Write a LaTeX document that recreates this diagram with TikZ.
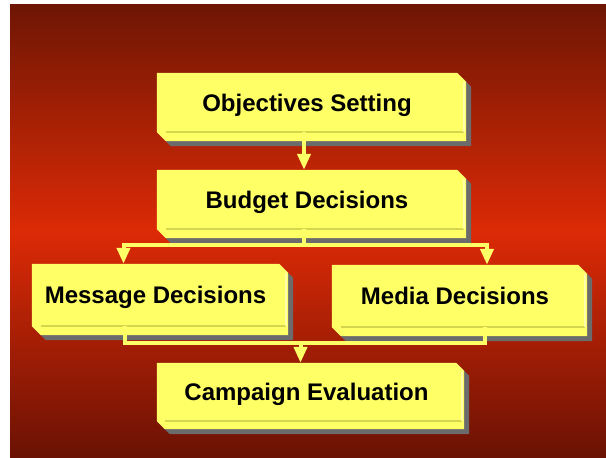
\documentclass[tikz,border=0pt]{standalone}
\usepackage{fontspec}
\setmainfont{Liberation Sans}
\usetikzlibrary{arrows.meta,calc}
\definecolor{bgtop}{HTML}{6E1604}
\definecolor{bgmid}{HTML}{DC2A06}
\definecolor{bgbot}{HTML}{6A1204}
\definecolor{boxyellow}{HTML}{FFFF66}
\definecolor{shadowgray}{HTML}{6B6B6B}
\definecolor{edgedark}{HTML}{D6D64E}
\definecolor{edgelight}{HTML}{FFFFA8}
\pgfdeclarelayer{bglayer}
\pgfdeclarelayer{boxlayer}
\pgfsetlayers{bglayer,boxlayer,main}
\tikzset{
  face/.style={inner sep=0pt, text depth=0pt, font=\fontsize{24}{28}\selectfont\bfseries, text=black},
  link/.style={draw=boxyellow, line width=4pt},
  conn/.style={link, -{Triangle[width=13pt,length=16pt]}}
}
\newcommand{\tdpath}[2]{(#1.north west) -- (#1.north east) -- ($(#1.north east)+(#2,-#2)$) -- ($(#1.south east)+(#2,-#2)$) -- ($(#1.south west)+(#2,-#2)$) -- (#1.south west) -- cycle}
\newcommand{\tdbox}[2]{%
  \begin{pgfonlayer}{boxlayer}
    \fill[shadowgray, transform canvas={shift={(5pt,-5pt)}}] \tdpath{#1}{#2};
    \fill[boxyellow] \tdpath{#1}{#2};
    \draw[edgedark, line width=1.5pt] ($(#1.south west)+(#2,0)$) -- ($(#1.south east)+(#2-2,0)$);
    \draw[edgelight, line width=1.5pt] ($(#1.north east)+(#2-2,-#2)$) -- ($(#1.south east)+(#2-2,0)$);
  \end{pgfonlayer}}
\begin{document}
\begin{tikzpicture}[x=1pt,y=1pt]
\useasboundingbox (0,0) rectangle (606,458);
\begin{pgfonlayer}{bglayer}
  \shade[top color=bgtop, bottom color=bgbot, middle color=bgmid] (10,0) rectangle (606,453);
\end{pgfonlayer}

\node[face, minimum width=300pt, minimum height=59pt] (obj)  at (307,355.5) {Objectives Setting};
\node[face, minimum width=300pt, minimum height=59pt] (bud)  at (307,258.5) {Budget Decisions};
\node[face, minimum width=247pt, minimum height=62pt] (msg)  at (155.5,163) {Message Decisions};
\node[face, minimum width=246pt, minimum height=62pt] (med)  at (455,162) {Media Decisions};
\node[face, minimum width=299pt, minimum height=58pt] (camp) at (306.5,66) {Campaign Evaluation};

\tdbox{obj}{9}
\tdbox{bud}{9}
\tdbox{msg}{9}
\tdbox{med}{9}
\tdbox{camp}{8}

\draw[conn] ([xshift=-3pt]obj.south) -- ([xshift=-3pt]bud.north);
\coordinate (split) at ($(bud.south)+(-3,-16)$);
\draw[link] ([xshift=-3pt]bud.south) -- (split);
\draw[conn] (split) -| ([xshift=-32pt]msg.north);
\draw[conn] (split) -| ([xshift=32pt]med.north);
\coordinate (mrg) at ($(camp.north)+(-6,20)$);
\draw[link] ([xshift=-31pt]msg.south) |- (mrg) -| ([xshift=30pt]med.south);
\draw[conn] (mrg) -- (mrg |- camp.north);
\end{tikzpicture}
\end{document}
